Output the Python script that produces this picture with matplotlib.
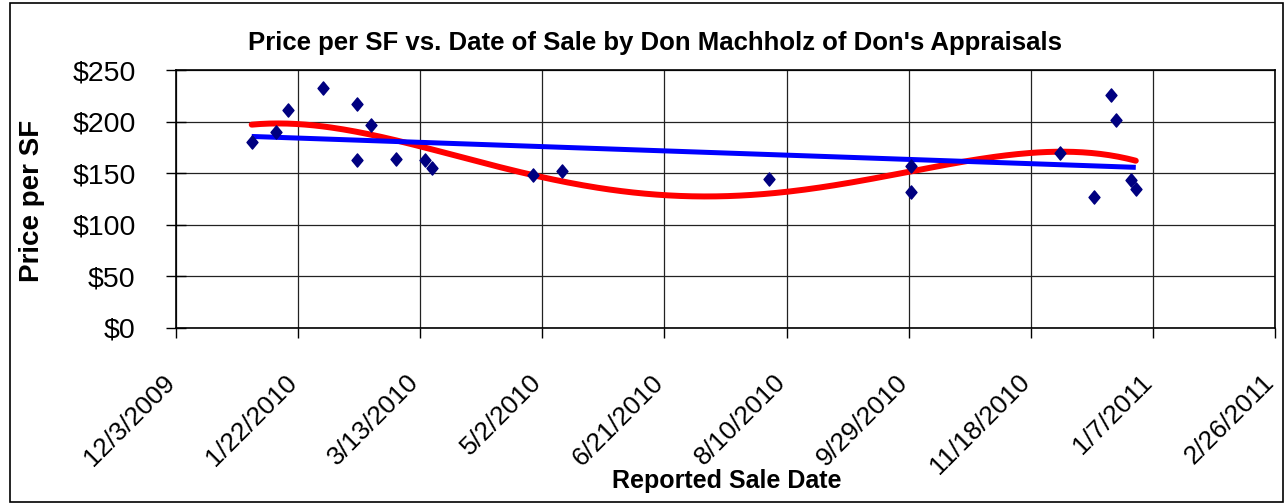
import datetime as dt
import numpy as np
import matplotlib
matplotlib.use("Agg")
import matplotlib.pyplot as plt
import matplotlib.dates as mdates
from matplotlib.patches import Rectangle
from matplotlib.path import Path

plt.rcParams['font.family'] = ['Liberation Sans', 'DejaVu Sans']

# Sale dates and price per SF
sale_dates = ["2010-01-03", "2010-01-13", "2010-01-18", "2010-02-01", "2010-02-15",
              "2010-02-21", "2010-02-15", "2010-03-03", "2010-03-15", "2010-03-18",
              "2010-04-28", "2010-05-10", "2010-08-03", "2010-09-30", "2010-09-30",
              "2010-11-30", "2010-12-14", "2010-12-21", "2010-12-23", "2010-12-29",
              "2010-12-31"]
price_sf = [180, 190, 211, 233, 217,
            197, 163, 164, 163, 155,
            148, 152, 144, 157, 132,
            170, 127, 226, 202, 143,
            135]

tick_start = "2009-12-03"
tick_step_days = 50
n_ticks = 10
y_ticks = [0, 50, 100, 150, 200, 250]

dates = [dt.datetime.strptime(s, "%Y-%m-%d") for s in sale_dates]
x = mdates.date2num(dates)
y = np.array(price_sf, dtype=float)

fig = plt.figure(figsize=(12.86, 5.04), dpi=100)
ax = fig.add_axes([176 / 1286, 1 - 328 / 504, (1275 - 176) / 1286, (328 - 70) / 504])

# trendlines (Excel-style): linear and polynomial least squares
x0 = x.mean()
xs = np.linspace(x.min(), x.max(), 300)
lin = np.polyfit(x - x0, y, 1)
poly = np.polyfit(x - x0, y, 4)
ax.plot(xs, np.polyval(poly, xs - x0), color='#ff0000', lw=4.3, solid_capstyle='round', zorder=3)
ax.plot(xs, np.polyval(lin, xs - x0), color='#0000ff', lw=3.6, solid_capstyle='butt', zorder=3)

diamond = Path([(0, 1), (0.83, 0), (0, -1), (-0.83, 0), (0, 1)],
               [Path.MOVETO, Path.LINETO, Path.LINETO, Path.LINETO, Path.CLOSEPOLY])
ax.plot(x, y, linestyle='none', marker=diamond, ms=9.5, color='#000080', zorder=4)

start = dt.datetime.strptime(tick_start, "%Y-%m-%d")
ticks = [start + dt.timedelta(days=tick_step_days * i) for i in range(n_ticks)]
tick_nums = mdates.date2num(ticks)
ax.set_xlim(tick_nums[0], tick_nums[-1])
ax.set_xticks(tick_nums)
ax.set_xticklabels([f"{d.month}/{d.day}/{d.year}" for d in ticks],
                   rotation=45, ha='right', va='baseline', rotation_mode='anchor', fontsize=19)
ax.tick_params(axis='x', direction='out', length=7, width=1, pad=33)

ax.set_ylim(0, 250)
ax.set_yticks(y_ticks)
ax.set_yticklabels([f"${v}" for v in y_ticks], fontsize=20.5)
ax.tick_params(axis='y', direction='inout', length=14, width=1, pad=22)

ax.grid(True, color='#222222', lw=0.9)
ax.set_axisbelow(True)
for sp in ax.spines.values():
    sp.set_color('black')
    sp.set_linewidth(1.2)

fig.text(655 / 1286, 1 - 43 / 504, "Price per SF vs. Date of Sale by Don Machholz of Don's Appraisals",
         ha='center', va='center', fontsize=18.5, fontweight='bold')
fig.text(727 / 1286, 1 - 481 / 504, "Reported Sale Date",
         ha='center', va='center', fontsize=18, fontweight='bold')
fig.text(32 / 1286, 1 - 201 / 504, "Price per SF",
         ha='center', va='center', rotation=90, fontsize=20, fontweight='bold')

fig.patches.append(Rectangle((10 / 1286, 2 / 504), 1273 / 1286, 499 / 504,
                             transform=fig.transFigure, fill=False, edgecolor='black', lw=1.2))

fig.savefig("out.png", dpi=100)
